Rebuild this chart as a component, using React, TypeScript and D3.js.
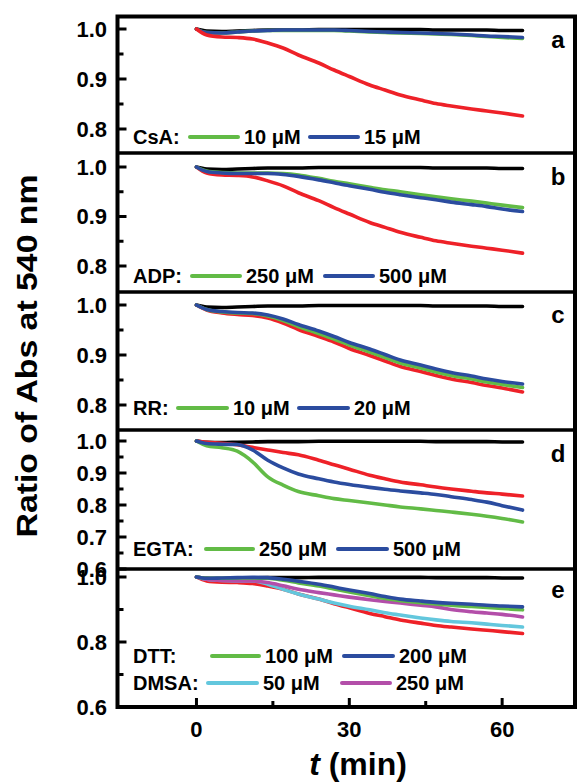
import React from 'react';
import { scaleLinear, line, curveMonotoneX } from 'd3';

// time points (min) shared by every trace
const times = [0, 2, 5, 8, 11, 14, 17, 20, 24, 27, 30, 34, 37, 40, 44, 47, 50, 54, 57, 60, 64];

// controls
const controlBlack = [1.0, 0.996, 0.995, 0.996, 0.997, 0.998, 0.998, 0.998, 0.999, 0.999, 0.999, 0.999, 0.999, 0.999, 0.999, 0.998, 0.998, 0.998, 0.998, 0.997, 0.997];
const controlRed = [1.0, 0.988, 0.984, 0.983, 0.98, 0.972, 0.962, 0.948, 0.932, 0.918, 0.905, 0.888, 0.878, 0.868, 0.858, 0.851, 0.846, 0.84, 0.836, 0.832, 0.826];

// a: CsA
const csa10 = [1.0, 0.993, 0.992, 0.994, 0.996, 0.997, 0.997, 0.997, 0.997, 0.997, 0.996, 0.994, 0.993, 0.992, 0.991, 0.99, 0.989, 0.987, 0.985, 0.983, 0.981];
const csa15 = [1.0, 0.993, 0.992, 0.994, 0.996, 0.997, 0.998, 0.998, 0.998, 0.998, 0.997, 0.995, 0.994, 0.993, 0.992, 0.991, 0.99, 0.988, 0.986, 0.985, 0.983];

// b: ADP
const adp250 = [1.0, 0.992, 0.989, 0.988, 0.988, 0.988, 0.987, 0.984, 0.977, 0.971, 0.966, 0.959, 0.954, 0.95, 0.944, 0.94, 0.936, 0.931, 0.927, 0.923, 0.918];
const adp500 = [1.0, 0.991, 0.988, 0.987, 0.987, 0.987, 0.985, 0.981, 0.974, 0.968, 0.962, 0.955, 0.949, 0.944, 0.938, 0.934, 0.929, 0.924, 0.92, 0.915, 0.91];

// c: RR
const rrRed = [1.0, 0.99, 0.984, 0.981, 0.979, 0.974, 0.964, 0.951, 0.937, 0.926, 0.913, 0.899, 0.888, 0.877, 0.867, 0.859, 0.852, 0.845, 0.839, 0.834, 0.826];
const rr10 = [1.0, 0.991, 0.986, 0.984, 0.983, 0.978, 0.969, 0.957, 0.943, 0.932, 0.92, 0.906, 0.895, 0.884, 0.874, 0.866, 0.859, 0.852, 0.846, 0.841, 0.835];
const rr20 = [1.0, 0.991, 0.987, 0.985, 0.984, 0.98, 0.972, 0.961, 0.948, 0.937, 0.925, 0.912, 0.901, 0.89, 0.88, 0.872, 0.865, 0.858, 0.852, 0.847, 0.842];

// d: EGTA
const egtaRed = [1.0, 0.996, 0.993, 0.988, 0.98, 0.972, 0.964, 0.957, 0.94, 0.926, 0.912, 0.893, 0.882, 0.872, 0.863, 0.856, 0.85, 0.843, 0.838, 0.834, 0.828];
const egta250 = [1.0, 0.985, 0.979, 0.968, 0.935, 0.888, 0.862, 0.842, 0.829, 0.82, 0.814, 0.806, 0.8, 0.794, 0.788, 0.783, 0.778, 0.771, 0.765, 0.758, 0.747];
const egta500 = [1.0, 0.992, 0.99, 0.989, 0.972, 0.94, 0.916, 0.897, 0.882, 0.872, 0.864, 0.855, 0.849, 0.844, 0.838, 0.833, 0.826, 0.817, 0.809, 0.798, 0.784];

// e: DTT / DMSA
const dtt100 = [1.0, 0.996, 0.996, 0.997, 0.997, 0.996, 0.99, 0.982, 0.972, 0.963, 0.954, 0.942, 0.934, 0.927, 0.921, 0.917, 0.913, 0.909, 0.906, 0.903, 0.899];
const dtt200 = [1.0, 0.996, 0.997, 0.998, 0.999, 0.998, 0.993, 0.987, 0.978, 0.969, 0.96, 0.949, 0.94, 0.932, 0.926, 0.922, 0.919, 0.916, 0.913, 0.911, 0.908];
const dmsa50 = [1.0, 0.993, 0.989, 0.988, 0.988, 0.978, 0.962, 0.948, 0.932, 0.92, 0.91, 0.899, 0.89, 0.883, 0.874, 0.868, 0.863, 0.859, 0.855, 0.851, 0.846];
const dmsa250 = [1.0, 0.993, 0.989, 0.988, 0.988, 0.983, 0.973, 0.962, 0.952, 0.945, 0.938, 0.93, 0.925, 0.92, 0.913, 0.908, 0.9, 0.893, 0.889, 0.885, 0.877];

// axis ticks
const xMajor = [0, 30, 60];
const xMinor = [15, 45];

const RED = '#ee2128';
const GREEN = '#62bb46';
const BLUE = '#2b4c9f';
const CYAN = '#63c7dd';
const MAGENTA = '#b34ea9';
const FONT = '"Liberation Sans", Arial, Helvetica, sans-serif';

const LEFT = 117.5;
const RIGHT = 575;
const FRAME_TOP = 16.5;
const FRAME_BOTTOM = 707;

const xScale = scaleLinear().domain([-15.5, 74.3]).range([LEFT, RIGHT]);

const panels = [
  {
    letter: 'a', letterY: 48, top: 16.5, bottom: 153,
    dom: [0.8, 1.0], pix: [129, 29], major: [1.0, 0.9, 0.8], minor: [0.95, 0.85],
    series: [[controlBlack, 'black'], [csa10, GREEN], [csa15, BLUE], [controlRed, RED]],
    legend: [{ label: 'CsA:', y: 137, items: [[GREEN, 190, 238, '10 μM'], [BLUE, 310, 358, '15 μM']] }],
  },
  {
    letter: 'b', letterY: 185, top: 153, bottom: 292,
    dom: [0.8, 1.0], pix: [266, 167], major: [1.0, 0.9, 0.8], minor: [0.95, 0.85],
    series: [[controlBlack, 'black'], [controlRed, RED], [adp250, GREEN], [adp500, BLUE]],
    legend: [{ label: 'ADP:', y: 276, items: [[GREEN, 192, 240, '250 μM'], [BLUE, 325, 373, '500 μM']] }],
  },
  {
    letter: 'c', letterY: 323, top: 292, bottom: 430,
    dom: [0.8, 1.0], pix: [405, 305], major: [1.0, 0.9, 0.8], minor: [0.95, 0.85],
    series: [[controlBlack, 'black'], [rrRed, RED], [rr10, GREEN], [rr20, BLUE]],
    legend: [{ label: 'RR:', y: 408, items: [[GREEN, 178, 227, '10 μM'], [BLUE, 299, 348, '20 μM']] }],
  },
  {
    letter: 'd', letterY: 462, top: 430, bottom: 569,
    dom: [0.6, 1.0], pix: [569, 441], major: [1.0, 0.9, 0.8, 0.7, 0.6], minor: [0.95, 0.85, 0.75, 0.65],
    series: [[controlBlack, 'black'], [egtaRed, RED], [egta250, GREEN], [egta500, BLUE]],
    legend: [{ label: 'EGTA:', y: 549, items: [[GREEN, 206, 253, '250 μM'], [BLUE, 338, 387, '500 μM']] }],
  },
  {
    letter: 'e', letterY: 598, top: 569, bottom: 707,
    dom: [0.6, 1.0], pix: [707, 577], major: [1.0, 0.8, 0.6], minor: [0.9, 0.7],
    series: [[controlBlack, 'black'], [controlRed, RED], [dmsa50, CYAN], [dmsa250, MAGENTA], [dtt100, GREEN], [dtt200, BLUE]],
    legend: [
      { label: 'DTT:', y: 656, items: [[GREEN, 212, 259, '100 μM'], [BLUE, 344, 393, '200 μM']] },
      { label: 'DMSA:', y: 683, items: [[CYAN, 208, 257, '50 μM'], [MAGENTA, 342, 390, '250 μM']] },
    ],
  },
];

export default function App() {
  return (
    <svg width={577} height={783} style={{ position: 'absolute', left: 0, top: 0, background: 'white' }}
      fontFamily={FONT} fontWeight="bold">
      {panels.map((p) => {
        const y = scaleLinear().domain(p.dom).range(p.pix);
        const gen = line<number>()
          .x((_, i) => xScale(times[i]))
          .y((v) => y(v))
          .curve(curveMonotoneX);
        return (
          <g key={p.letter}>
            {p.series.map(([vals, col], i) => (
              <path key={i} d={gen(vals as number[]) || ''} fill="none" stroke={col as string}
                strokeWidth={3.6} strokeLinecap="round" strokeLinejoin="round" />
            ))}
            {p.major.map((v) => (
              <g key={'M' + v}>
                <line x1={LEFT} x2={LEFT + 9} y1={y(v)} y2={y(v)} stroke="black" strokeWidth={3} />
                <text x={107} y={y(v)} dy="0.36em" textAnchor="end" fontSize={22}>{v.toFixed(1)}</text>
              </g>
            ))}
            {p.minor.map((v) => (
              <line key={'m' + v} x1={LEFT} x2={LEFT + 6} y1={y(v)} y2={y(v)} stroke="black" strokeWidth={3} />
            ))}
            <text x={558} y={p.letterY} textAnchor="middle" fontSize={24}>{p.letter}</text>
            {p.legend.map((row) => (
              <g key={row.label}>
                <text x={133} y={row.y} dy="0.36em" fontSize={20}>{row.label}</text>
                {row.items.map(([col, x1, x2, txt]) => (
                  <g key={txt as string}>
                    <line x1={x1 as number} x2={x2 as number} y1={row.y} y2={row.y} stroke={col as string}
                      strokeWidth={4} strokeLinecap="round" />
                    <text x={(x2 as number) + 6} y={row.y} dy="0.36em" fontSize={20}>{txt as string}</text>
                  </g>
                ))}
              </g>
            ))}
            {p.bottom < FRAME_BOTTOM && (
              <line x1={LEFT} x2={RIGHT} y1={p.bottom} y2={p.bottom} stroke="black" strokeWidth={3.5} />
            )}
          </g>
        );
      })}
      <rect x={LEFT} y={FRAME_TOP} width={RIGHT - LEFT} height={FRAME_BOTTOM - FRAME_TOP}
        fill="none" stroke="black" strokeWidth={4} />
      {xMajor.map((t) => (
        <g key={'x' + t}>
          <line x1={xScale(t)} x2={xScale(t)} y1={FRAME_BOTTOM} y2={FRAME_BOTTOM - 9} stroke="black" strokeWidth={3} />
          <text x={xScale(t)} y={737} textAnchor="middle" fontSize={22}>{t}</text>
        </g>
      ))}
      {xMinor.map((t) => (
        <line key={'xm' + t} x1={xScale(t)} x2={xScale(t)} y1={FRAME_BOTTOM} y2={FRAME_BOTTOM - 6} stroke="black" strokeWidth={3} />
      ))}
      <text x={358} y={775} textAnchor="middle" fontSize={32}>
        <tspan fontStyle="italic">t</tspan> (min)
      </text>
      <text transform="translate(37,356) rotate(-90)" textAnchor="middle" fontSize={30}
        textLength={363} lengthAdjust="spacingAndGlyphs">Ratio of Abs at 540 nm</text>
    </svg>
  );
}
